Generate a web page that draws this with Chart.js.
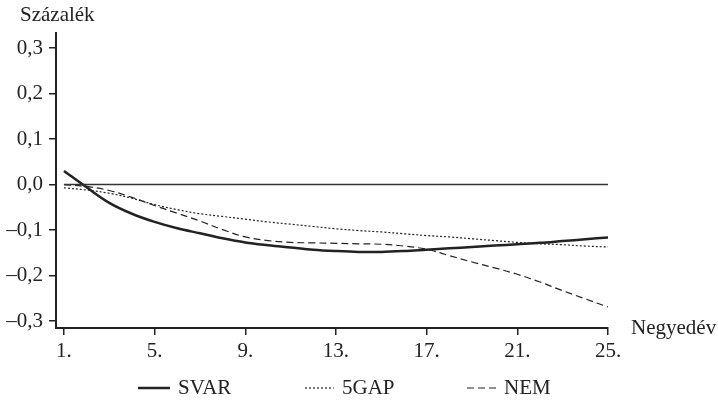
<!DOCTYPE html>
<html>
<head>
<meta charset="utf-8">
<script src="https://cdn.jsdelivr.net/npm/chart.js@4"></script>
<style>
  html, body { margin: 0; padding: 0; background: #fff; }
  #wrap { width: 718px; height: 401px; }
</style>
</head>
<body>
<div id="wrap"><canvas id="chart"></canvas></div>
<script>
// ---- data ----
const negyedevek = [1,2,3,4,5,6,7,8,9,10,11,12,13,14,15,16,17,18,19,20,21,22,23,24,25];
const xTicks = [1, 5, 9, 13, 17, 21, 25];
const yTicks = [-0.3, -0.2, -0.1, 0, 0.1, 0.2, 0.3];

const svar = [0.03, -0.006, -0.040, -0.064, -0.082, -0.096, -0.107, -0.118, -0.127, -0.133, -0.138, -0.143, -0.146,
              -0.148, -0.148, -0.146, -0.143, -0.140, -0.137, -0.134, -0.131, -0.128, -0.124, -0.120, -0.116];
const gap5 = [-0.007, -0.012, -0.019, -0.030, -0.044, -0.055, -0.064, -0.070, -0.076, -0.082, -0.087, -0.092, -0.097,
              -0.101, -0.104, -0.108, -0.112, -0.115, -0.119, -0.123, -0.127, -0.130, -0.132, -0.135, -0.137];
const nem  = [0.0, -0.004, -0.013, -0.028, -0.046, -0.063, -0.080, -0.099, -0.115, -0.123, -0.127, -0.128, -0.129,
              -0.130, -0.131, -0.135, -0.142, -0.156, -0.170, -0.183, -0.197, -0.214, -0.233, -0.251, -0.269];

const FONT = "'Liberation Serif', 'Times New Roman', serif";
const INK = "#222";

function pts(arr) {
    return arr.map((v, i) => ({ x: negyedevek[i], y: v }));
}

// feliratok + saját jelmagyarázat
const extraText = {
    id: "extraText",
    afterDraw(chart) {
        const ctx = chart.ctx;
        ctx.save();
        ctx.fillStyle = INK;
        ctx.font = "21px " + FONT;
        ctx.textBaseline = "middle";
        ctx.textAlign = "left";
        ctx.fillText("Százalék", 20, 15);
        ctx.fillText("Negyedév", 631, 328);

        const items = [
            { label: "SVAR", x: 138, w: 32, width: 2.5, dash: [] },
            { label: "5GAP", x: 305, w: 29, width: 1.2, dash: [2, 2] },
            { label: "NEM",  x: 467, w: 29, width: 1.2, dash: [7, 4] }
        ];
        const y = 388;
        items.forEach(it => {
            ctx.beginPath();
            ctx.strokeStyle = INK;
            ctx.lineWidth = it.width;
            ctx.setLineDash(it.dash);
            ctx.moveTo(it.x, y);
            ctx.lineTo(it.x + it.w, y);
            ctx.stroke();
            ctx.setLineDash([]);
            ctx.fillText(it.label, it.x + it.w + 8, y);
        });
        ctx.restore();
    }
};

new Chart(document.getElementById("chart"), {
    type: "line",
    data: {
        datasets: [
            { label: "zero", data: [{ x: 1, y: 0 }, { x: 25, y: 0 }], borderColor: "#333", borderWidth: 1.5, pointRadius: 0 },
            { label: "SVAR", data: pts(svar), borderColor: INK, borderWidth: 2.5, pointRadius: 0, tension: 0.35 },
            { label: "5GAP", data: pts(gap5), borderColor: INK, borderWidth: 1.2, borderDash: [2, 2], pointRadius: 0, tension: 0.35 },
            { label: "NEM",  data: pts(nem),  borderColor: INK, borderWidth: 1.2, borderDash: [7, 4], pointRadius: 0, tension: 0.35 }
        ]
    },
    options: {
        responsive: true,
        maintainAspectRatio: false,
        animation: false,
        layout: { padding: { left: 0, top: 33, right: 110, bottom: 0 } },
        plugins: {
            legend: { display: false },
            tooltip: { enabled: false }
        },
        scales: {
            x: {
                type: "linear",
                min: 0.65,
                max: 25,
                afterBuildTicks: s => { s.ticks = xTicks.map(v => ({ value: v })); },
                afterFit: s => { s.height = 73; },
                ticks: {
                    color: INK,
                    font: { family: FONT, size: 21 },
                    padding: 4,
                    maxRotation: 0,
                    callback: v => v + "."
                },
                grid: { drawOnChartArea: false, drawTicks: true, tickLength: 7, color: INK, lineWidth: 1.5 },
                border: { display: true, color: INK, width: 2 }
            },
            y: {
                min: -0.315,
                max: 0.333,
                afterBuildTicks: s => { s.ticks = yTicks.map(v => ({ value: v })); },
                afterFit: s => { s.width = 56; },
                ticks: {
                    color: INK,
                    font: { family: FONT, size: 21 },
                    padding: 6,
                    callback: v => {
                        const r = Math.round(v * 10) / 10;
                        return (r < 0 ? "\u2013" : "") + Math.abs(r).toFixed(1).replace(".", ",");
                    }
                },
                grid: { drawOnChartArea: false, drawTicks: true, tickLength: 7, color: INK, lineWidth: 1.5 },
                border: { display: true, color: INK, width: 2 }
            }
        }
    },
    plugins: [extraText]
});
</script>
</body>
</html>
